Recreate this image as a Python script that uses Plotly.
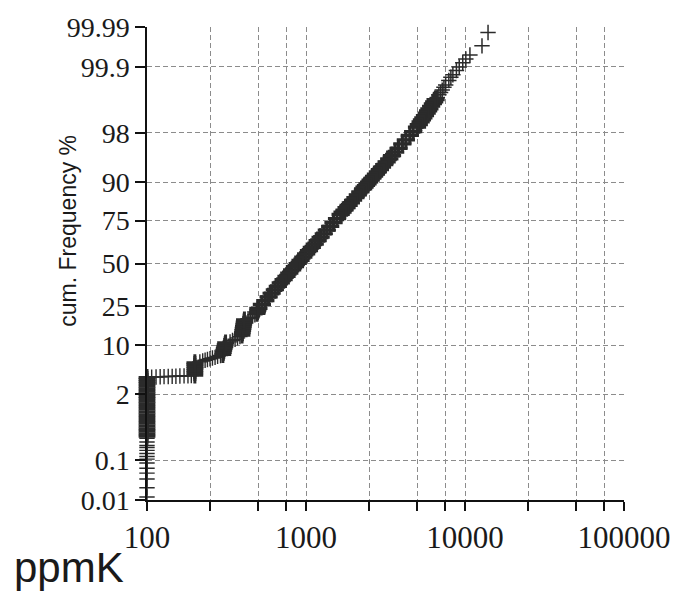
import plotly.graph_objects as go
from statistics import NormalDist

# ---------------- data ----------------
# samples at the detection limit (100 ppm K): cumulative frequency %
dl_ppm = 100
dl_sparse_pct = [0.012, 0.021, 0.035, 0.049, 0.064, 0.085, 0.105, 0.12, 0.14,
                 0.165, 0.19, 0.21, 0.25, 0.30]
dl_dense_pct = [0.33, 0.37, 0.42, 0.47, 0.53, 0.60, 0.68, 0.77, 0.87, 0.98,
                1.10, 1.23, 1.37, 1.52, 1.68, 1.85, 2.03, 2.23, 2.45, 2.68,
                2.92, 3.18, 3.45, 3.65]

# flat stretches between rounded values (single samples)
flat_ppm = [107, 114, 121, 128, 136, 144, 152, 161, 171, 181, 190,
            215, 224, 232, 240, 249, 258, 268, 278, 290,
            333, 345, 358, 371, 384,
            432, 447, 462, 477]
flat_pct = [3.70, 3.72, 3.74, 3.76, 3.78, 3.80, 3.82, 3.84, 3.86, 3.88, 3.90,
            6.1, 6.25, 6.4, 6.55, 6.7, 6.85, 7.0, 7.2, 7.4,
            10.9, 11.3, 11.7, 12.1, 12.5,
            19.3, 19.8, 20.4, 21.0]

# steps at rounded values (many identical samples)
step_ppm = [200, 200, 200, 200, 200, 200, 200,
            300, 302, 304, 306, 308, 310, 312,
            396, 398, 400, 402, 404, 406, 408, 410,
            492, 495, 498, 500]
step_pct = [3.95, 4.3, 4.6, 4.95, 5.3, 5.65, 5.95,
            7.6, 8.1, 8.6, 9.1, 9.6, 10.1, 10.6,
            13.0, 13.8, 14.6, 15.4, 16.2, 17.0, 17.9, 18.8,
            21.6, 22.3, 23.0, 23.7]

# main (log-normal looking) part
main_ppm = [502, 528, 555, 582, 608, 637, 665, 694, 723, 754, 785, 818, 852,
            887, 924, 962, 1002, 1044, 1088, 1135, 1184, 1236, 1294, 1352,
            1419, 1489, 1567, 1652, 1698, 1749, 1799, 1854, 1914, 1977, 2046,
            2118, 2198, 2286, 2333, 2384, 2438, 2495, 2551, 2612, 2679, 2754,
            2831, 2917, 3006, 3105, 3214, 3342, 3475, 3638, 3819, 4036, 4246,
            4498, 4721, 4990, 5123, 5260, 5360, 5470, 5600, 5740, 5860, 5970,
            6124, 6280, 6400, 6530]
main_pct = [24, 26, 28, 30, 32, 34, 36, 38, 40, 42, 44, 46, 48,
            50, 52, 54, 56, 58, 60, 62, 64, 66, 68, 70,
            72, 74, 76, 78, 79, 80, 81, 82, 83, 84, 85,
            86, 87, 88, 88.5, 89, 89.5, 90, 90.5, 91, 91.5, 92,
            92.5, 93, 93.5, 94, 94.5, 95, 95.5, 96, 96.5, 97, 97.4,
            97.8, 98.1, 98.4, 98.55, 98.7, 98.8, 98.9, 99.0, 99.1, 99.18, 99.25,
            99.33, 99.4, 99.45, 99.5]

# upper part, where the crosses thin out
upper_ppm = [6700, 6850, 7020, 7190, 7370, 7560, 7910, 8150, 8390, 8830, 9200,
             9680, 10120, 10740, 12790, 13960]
upper_pct = [99.55, 99.6, 99.64, 99.68, 99.72, 99.75, 99.8, 99.83, 99.85, 99.88, 99.9,
             99.92, 99.935, 99.948, 99.969, 99.986]

# axis ticks
y_tick_pct = [0.01, 0.1, 2, 10, 25, 50, 75, 90, 98, 99.9, 99.99]
y_tick_text = ["0.01", "0.1", "2", "10", "25", "50", "75", "90", "98", "99.9", "99.99"]
x_tick_vals = [100, 1000, 10000, 100000]
x_tick_text = ["100", "1000", "10000", "100000"]
x_minor_vals = [250, 500, 750, 2500, 5000, 7500, 25000, 50000, 75000]

# ---------------- figure ----------------
nd = NormalDist()


def probit(pcts):
    return [nd.inv_cdf(p / 100.0) for p in pcts]


zmax = nd.inv_cdf(0.9999)
INK = "#2b2b2b"
SERIF = "Liberation Serif, Times New Roman, Times, DejaVu Serif, serif"

fig = go.Figure()


def add_points(xv, pv, size, lw):
    fig.add_trace(go.Scatter(
        x=xv, y=probit(pv), mode="markers", cliponaxis=False,
        marker=dict(symbol="cross-thin", size=size, color=INK,
                    line=dict(width=lw, color=INK)),
        hoverinfo="skip", showlegend=False))


add_points([dl_ppm] * len(dl_sparse_pct), dl_sparse_pct, 11, 1.4)
add_points([dl_ppm] * len(dl_dense_pct), dl_dense_pct, 12, 3)
add_points(flat_ppm, flat_pct, 11, 1.4)
add_points(step_ppm, step_pct, 12, 3)
add_points(main_ppm, main_pct, 13, 3.2)
add_points(upper_ppm, upper_pct, 11, 1.5)

grid = dict(showgrid=True, gridcolor="#8c8c8c", gridwidth=1, griddash="5px,3px")

fig.update_xaxes(
    type="log", range=[2, 5], tickmode="array", tickvals=x_tick_vals,
    ticktext=x_tick_text, ticks="outside", ticklen=9, tickwidth=1.5,
    tickcolor="#111", showline=True, linecolor="#111", linewidth=1.5,
    tickfont=dict(family=SERIF, size=31, color="#1a1a1a"),
    minor=dict(tickmode="array", tickvals=x_minor_vals, ticks="outside",
               ticklen=9, tickwidth=1.5, tickcolor="#111", showgrid=True,
               gridcolor="#8c8c8c", gridwidth=1, griddash="5px,3px"),
    zeroline=False, **grid)

fig.update_yaxes(
    range=[-zmax, zmax], tickmode="array", tickvals=probit(y_tick_pct),
    ticktext=y_tick_text, ticks="outside", ticklen=10, tickwidth=1.5,
    tickcolor="#111", showline=True, linecolor="#111", linewidth=1.5,
    tickfont=dict(family=SERIF, size=28, color="#1a1a1a"),
    zeroline=False, **grid)

fig.add_annotation(text="cum. Frequency %", xref="paper", yref="paper",
                   x=(68 - 147) / 477, y=(500 - 229) / 476, textangle=-90,
                   showarrow=False, xanchor="center", yanchor="middle",
                   font=dict(family="Liberation Sans, Arial, sans-serif",
                             size=23, color="#1a1a1a"))
fig.add_annotation(text="ppmK", xref="paper", yref="paper",
                   x=(12 - 147) / 477, y=(500 - 568) / 476,
                   showarrow=False, xanchor="left", yanchor="middle",
                   font=dict(family="Liberation Sans, Arial, sans-serif",
                             size=42, color="#1a1a1a"))

fig.update_layout(width=687, height=596,
                  margin=dict(l=147, r=63, t=24, b=96),
                  plot_bgcolor="white", paper_bgcolor="white")

fig.write_html("out.html")
